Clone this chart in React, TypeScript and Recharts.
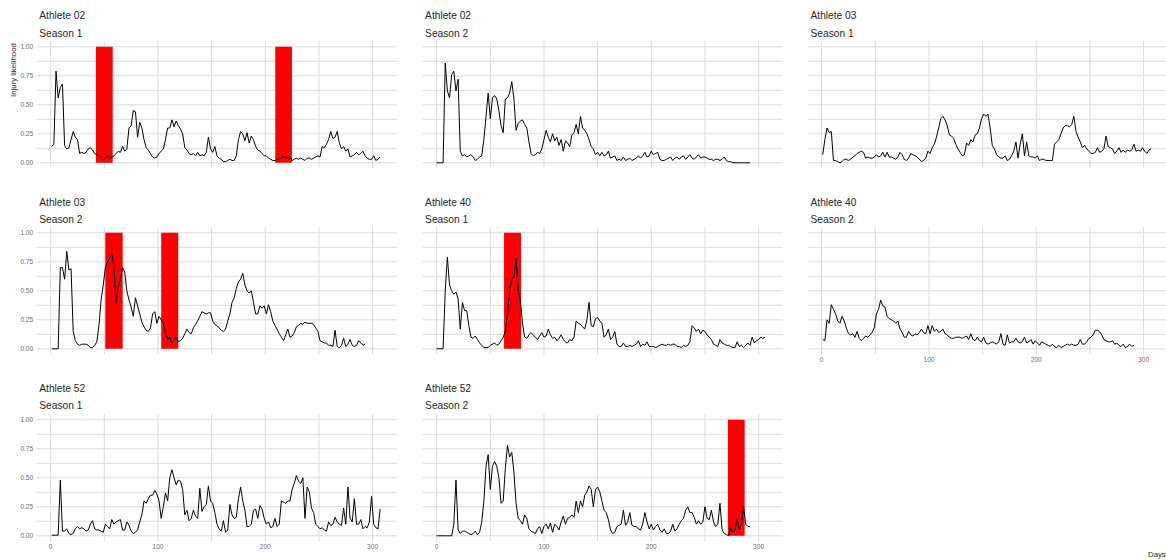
import React from 'react';
import { LineChart, Line, XAxis, YAxis, CartesianGrid, ReferenceArea } from 'recharts';

// x ticks (days) and y ticks (likelihood); minor breaks get no label
const dayTicks = [0, 50, 100, 150, 200, 250, 300];
const likelihoodTicks = [0, 0.125, 0.25, 0.375, 0.5, 0.625, 0.75, 0.875, 1];

// injury likelihood, one value every 2 days starting at the given day
const a02s1Start = 1;
const a02s1 = [
  0.14, 0.16, 0.79, 0.56, 0.65, 0.68, 0.15, 0.12, 0.13, 0.2,
  0.27, 0.22, 0.2, 0.08, 0.09, 0.08, 0.09, 0.12, 0.13, 0.11,
  0.08, 0.07, 0.06, 0.04, 0.02, 0.04, 0.06, 0.04, 0.05, 0.06,
  0.08, 0.1, 0.09, 0.14, 0.1, 0.12, 0.3, 0.32, 0.45, 0.44,
  0.22, 0.35, 0.3, 0.2, 0.13, 0.11, 0.08, 0.05, 0.04, 0.05,
  0.08, 0.1, 0.12, 0.2, 0.3, 0.3, 0.37, 0.31, 0.36, 0.32,
  0.29, 0.25, 0.13, 0.11, 0.08, 0.07, 0.08, 0.06, 0.09, 0.06,
  0.07, 0.06, 0.09, 0.22, 0.12, 0.09, 0.14, 0.06, 0.04, 0.03,
  0.01, 0.01, 0.02, 0.03, 0.02, 0.02, 0.06, 0.2, 0.27, 0.25,
  0.19, 0.26, 0.17, 0.23, 0.2, 0.14, 0.11, 0.1, 0.08, 0.06,
  0.06, 0.04, 0.03, 0.02, 0.02, 0.03, 0.03, 0.04, 0.06, 0.04,
  0.05, 0.05, 0.02, 0.03, 0.04, 0.03, 0.04, 0.03, 0.02, 0.04,
  0.04, 0.03, 0.04, 0.05, 0.06, 0.05, 0.14, 0.13, 0.16, 0.2,
  0.27, 0.21, 0.22, 0.27, 0.17, 0.12, 0.14, 0.1, 0.12, 0.05,
  0.06, 0.07, 0.09, 0.07, 0.08, 0.1, 0.06, 0.04, 0.03, 0.03,
  0.06, 0.02, 0.03, 0.05,
];
const a02s1Injuries = [[42.2, 57.8], [209.3, 224.8]];

const a02s2Start = 0;
const a02s2 = [
  0, 0, 0, 0, 0.86, 0.62, 0.56, 0.76, 0.79, 0.62,
  0.72, 0.1, 0.06, 0.07, 0.05, 0.06, 0.07, 0.05, 0.02, 0.03,
  0.05, 0.06, 0.2, 0.4, 0.6, 0.38, 0.56, 0.58, 0.55, 0.45,
  0.32, 0.26, 0.55, 0.56, 0.6, 0.7, 0.55, 0.28, 0.34, 0.36,
  0.37, 0.33, 0.3, 0.18, 0.08, 0.06, 0.07, 0.09, 0.08, 0.12,
  0.2, 0.28, 0.22, 0.18, 0.25, 0.19, 0.22, 0.15, 0.2, 0.1,
  0.19, 0.17, 0.14, 0.24, 0.26, 0.33, 0.25, 0.4, 0.3, 0.28,
  0.25, 0.2, 0.14, 0.12, 0.07, 0.09, 0.06, 0.09, 0.06, 0.07,
  0.1, 0.04, 0.05, 0.06, 0.02, 0.03, 0.02, 0.05, 0.02, 0.03,
  0.04, 0.02, 0.03, 0.04, 0.06, 0.04, 0.06, 0.09, 0.05, 0.06,
  0.1, 0.07, 0.08, 0.09, 0.03, 0.02, 0.02, 0.03, 0.04, 0.05,
  0.02, 0.04, 0.05, 0.03, 0.05, 0.06, 0.03, 0.05, 0.07, 0.04,
  0.03, 0.05, 0.07, 0.04, 0.05, 0.05, 0.04, 0.03, 0.03, 0.02,
  0.03, 0.03, 0.02, 0.03, 0.05, 0.02, 0.01, 0.01, 0, 0,
  0, 0, 0, 0, 0, 0, 0,
];
const a02s2Injuries: number[][] = [];

const a03s1Start = 1;
const a03s1 = [
  0.07, 0.2, 0.3, 0.26, 0.27, 0.02, 0.02, 0.01, 0, 0.01,
  0.03, 0.03, 0.02, 0.03, 0.05, 0.06, 0.08, 0.09, 0.1, 0.09,
  0.04, 0.05, 0.04, 0.04, 0.05, 0.07, 0.05, 0.06, 0.09, 0.05,
  0.09, 0.05, 0.05, 0.04, 0.03, 0.05, 0.09, 0.07, 0.03, 0.02,
  0.04, 0.08, 0.07, 0.06, 0.05, 0.03, 0.01, 0.02, 0.04, 0.1,
  0.08, 0.13, 0.16, 0.22, 0.3, 0.38, 0.4, 0.37, 0.32, 0.24,
  0.23, 0.21, 0.16, 0.12, 0.09, 0.06, 0.07, 0.17, 0.15, 0.2,
  0.18, 0.24, 0.25, 0.3, 0.38, 0.42, 0.4, 0.42, 0.3, 0.15,
  0.12, 0.07, 0.05, 0.04, 0.04, 0.06, 0.02, 0.03, 0.06, 0.1,
  0.18, 0.04, 0.16, 0.25, 0.06, 0.18, 0.06, 0.05, 0.05, 0.04,
  0.06, 0.02, 0.03, 0.03, 0.02, 0.02, 0.02, 0.02, 0.16, 0.18,
  0.2, 0.25, 0.3, 0.32, 0.32, 0.31, 0.33, 0.4, 0.27, 0.22,
  0.18, 0.13, 0.15, 0.12, 0.1, 0.08, 0.08, 0.09, 0.13, 0.09,
  0.1, 0.12, 0.23, 0.14, 0.13, 0.12, 0.08, 0.1, 0.13, 0.09,
  0.11, 0.09, 0.11, 0.1, 0.11, 0.16, 0.1, 0.11, 0.1, 0.13,
  0.1, 0.08, 0.11, 0.12,
];
const a03s1Injuries: number[][] = [];

const a03s2Start = 1;
const a03s2 = [
  0, 0, 0, 0, 0.7, 0.7, 0.6, 0.84, 0.68, 0.69,
  0.15, 0.07, 0.04, 0.03, 0.04, 0.04, 0.04, 0.03, 0.01, 0.01,
  0.03, 0.06, 0.2, 0.42, 0.55, 0.7, 0.75, 0.78, 0.82, 0.7,
  0.4, 0.55, 0.6, 0.7, 0.66, 0.5, 0.42, 0.36, 0.28, 0.44,
  0.37, 0.3, 0.23, 0.19, 0.16, 0.15, 0.18, 0.3, 0.32, 0.22,
  0.28, 0.25, 0.22, 0.14, 0.08, 0.1, 0.05, 0.08, 0.1, 0.06,
  0.07, 0.09, 0.13, 0.17, 0.14, 0.13, 0.18, 0.21, 0.24, 0.28,
  0.32, 0.31, 0.3, 0.31, 0.31, 0.24, 0.21, 0.2, 0.18, 0.16,
  0.15, 0.17, 0.24, 0.3, 0.4, 0.44, 0.52, 0.58, 0.6, 0.65,
  0.55, 0.5, 0.48, 0.5, 0.4, 0.3, 0.3, 0.37, 0.35, 0.37,
  0.3, 0.38, 0.32, 0.24, 0.2, 0.17, 0.13, 0.1, 0.07, 0.12,
  0.17, 0.1, 0.11, 0.14, 0.19, 0.2, 0.22, 0.21, 0.23, 0.22,
  0.22, 0.22, 0.21, 0.18, 0.15, 0.07, 0.06, 0.05, 0.05, 0.03,
  0.03, 0.02, 0.16, 0.02, 0.01, 0.03, 0.09, 0.02, 0.04, 0.08,
  0.03, 0.02, 0.03, 0.07, 0.05, 0.03, 0.04,
];
const a03s2Injuries = [[50.9, 67.1], [103, 118.9]];

const a40s1Start = 0;
const a40s1 = [
  0, 0, 0, 0, 0.5, 0.79, 0.55, 0.5, 0.47, 0.49,
  0.43, 0.17, 0.4, 0.33, 0.33, 0.2, 0.1, 0.09, 0.11, 0.08,
  0.05, 0.03, 0.01, 0.01, 0.01, 0.03, 0.04, 0.05, 0.03, 0.04,
  0.07, 0.1, 0.15, 0.3, 0.5, 0.6, 0.62, 0.78, 0.5, 0.42,
  0.22, 0.1, 0.09, 0.12, 0.14, 0.12, 0.1, 0.08, 0.11, 0.14,
  0.1, 0.11, 0.17, 0.12, 0.09, 0.1, 0.07, 0.09, 0.12, 0.08,
  0.06, 0.05, 0.08, 0.07, 0.1, 0.24, 0.22, 0.21, 0.19, 0.17,
  0.25, 0.4, 0.2, 0.19, 0.26, 0.27, 0.24, 0.22, 0.1, 0.12,
  0.17, 0.08, 0.1, 0.15, 0.04, 0.02, 0.02, 0.05, 0.02, 0.02,
  0.03, 0.02, 0.03, 0.04, 0.07, 0.02, 0.04, 0.03, 0.06, 0.02,
  0.02, 0.02, 0.01, 0.02, 0.03, 0.04, 0.03, 0.03, 0.04, 0.03,
  0.04, 0.04, 0.02, 0.02, 0.01, 0.03, 0.02, 0.03, 0.06, 0.2,
  0.18, 0.15, 0.17, 0.13, 0.16, 0.15, 0.12, 0.1, 0.08, 0.04,
  0.03, 0.02, 0.08, 0.05, 0.04, 0.03, 0.03, 0.02, 0.01, 0.01,
  0.06, 0.02, 0.03, 0.01, 0.03, 0.05, 0.03, 0.1, 0.05, 0.07,
  0.08, 0.1, 0.09, 0.1,
];
const a40s1Injuries = [[62.8, 78.6]];

const a40s2Start = 1;
const a40s2 = [
  0.08, 0.07, 0.25, 0.22, 0.38, 0.34, 0.3, 0.24, 0.22, 0.28,
  0.24, 0.18, 0.13, 0.12, 0.13, 0.1, 0.15, 0.09, 0.07, 0.09,
  0.11, 0.1, 0.12, 0.14, 0.18, 0.3, 0.34, 0.42, 0.37, 0.36,
  0.28, 0.26, 0.25, 0.24, 0.22, 0.24, 0.17, 0.14, 0.1, 0.1,
  0.15, 0.12, 0.11, 0.13, 0.12, 0.14, 0.17, 0.14, 0.13, 0.2,
  0.13, 0.2, 0.15, 0.17, 0.14, 0.15, 0.17, 0.13, 0.12, 0.1,
  0.09, 0.09, 0.1, 0.1, 0.1, 0.09, 0.1, 0.11, 0.08, 0.13,
  0.08, 0.07, 0.1, 0.07, 0.06, 0.1, 0.05, 0.04, 0.05, 0.06,
  0.05, 0.04, 0.06, 0.13, 0.04, 0.03, 0.12, 0.05, 0.06, 0.06,
  0.09, 0.06, 0.05, 0.06, 0.1, 0.05, 0.06, 0.08, 0.04, 0.07,
  0.05, 0.03, 0.06, 0.05, 0.04, 0.03, 0.02, 0.04, 0.02, 0.01,
  0.03, 0.01, 0.02, 0.03, 0.04, 0.03, 0.04, 0.03, 0.03, 0.04,
  0.08, 0.04, 0.04, 0.06, 0.09, 0.1, 0.12, 0.16, 0.16, 0.15,
  0.12, 0.08, 0.07, 0.06, 0.06, 0.07, 0.04, 0.05, 0.03, 0.02,
  0.04, 0.01, 0.02, 0.04, 0.02, 0.03,
];
const a40s2Injuries: number[][] = [];

const a52s1Start = 1;
const a52s1 = [
  0.005, 0.005, 0.005, 0.005, 0.48, 0.04, 0.04, 0.06, 0.02, 0.01,
  0.02, 0.06, 0.08, 0.06, 0.07, 0.06, 0.04, 0.05, 0.1, 0.13,
  0.06, 0.05, 0.05, 0.04, 0.03, 0.1, 0.08, 0.06, 0.14, 0.1,
  0.12, 0.13, 0.14, 0.05, 0.05, 0.12, 0.09, 0.04, 0.02, 0.03,
  0.05, 0.12, 0.18, 0.3, 0.28, 0.32, 0.35, 0.35, 0.39, 0.36,
  0.3, 0.15, 0.25, 0.37, 0.3, 0.5, 0.57, 0.5, 0.44, 0.48,
  0.47, 0.4, 0.18, 0.22, 0.13, 0.15, 0.22, 0.17, 0.15, 0.41,
  0.21, 0.25, 0.27, 0.43, 0.3, 0.28, 0.2, 0.1, 0.06, 0.04,
  0.13, 0.03, 0.05, 0.27, 0.18, 0.15, 0.16, 0.32, 0.42, 0.3,
  0.22, 0.08, 0.08, 0.1, 0.22, 0.23, 0.15, 0.26, 0.23, 0.15,
  0.1, 0.12, 0.07, 0.08, 0.15, 0.08, 0.1, 0.3, 0.29, 0.28,
  0.3, 0.3, 0.4, 0.45, 0.52, 0.47, 0.45, 0.5, 0.15, 0.42,
  0.38, 0.24, 0.2, 0.1, 0.08, 0.06, 0.07, 0.05, 0.04, 0.12,
  0.09, 0.1, 0.16, 0.12, 0.1, 0.09, 0.24, 0.1, 0.42, 0.15,
  0.12, 0.32, 0.1, 0.1, 0.14, 0.06, 0.08, 0.07, 0.12, 0.34,
  0.1, 0.07, 0.06, 0.23,
];
const a52s1Injuries: number[][] = [];

const a52s2Start = 0;
const a52s2 = [
  0, 0, 0, 0, 0, 0, 0, 0, 0.1, 0.48,
  0.05, 0.02, 0.04, 0.04, 0.03, 0.02, 0.01, 0.02, 0.04, 0.01,
  0.03, 0.12, 0.3, 0.6, 0.7, 0.4, 0.6, 0.64, 0.6, 0.5,
  0.28, 0.3, 0.58, 0.78, 0.68, 0.72, 0.55, 0.28, 0.15, 0.13,
  0.1, 0.18, 0.15, 0.06, 0.04, 0.03, 0.02, 0.06, 0.08, 0.02,
  0.08, 0.1, 0.06, 0.11, 0.03, 0.1, 0.08, 0.05, 0.12, 0.17,
  0.1, 0.15, 0.16, 0.18, 0.16, 0.3, 0.2, 0.3, 0.25, 0.35,
  0.38, 0.43, 0.4, 0.25, 0.4, 0.42, 0.38, 0.3, 0.22, 0.2,
  0.14, 0.05, 0.02, 0.03, 0.08, 0.09, 0.1, 0.22, 0.09, 0.12,
  0.2, 0.09, 0.08, 0.08, 0.06, 0.05, 0.1, 0.2, 0.12, 0.06,
  0.1, 0.05, 0.08, 0.1, 0.05, 0.03, 0.06, 0.02, 0.02, 0.04,
  0.1, 0.04, 0.06, 0.1, 0.13, 0.15, 0.22, 0.25, 0.2, 0.2,
  0.16, 0.1, 0.13, 0.1, 0.12, 0.25, 0.15, 0.14, 0.22, 0.12,
  0.08, 0.1, 0.28, 0.05, 0.02, 0.01, 0, 0.07, 0.03, 0.05,
  0.14, 0.05, 0.1, 0.25, 0.1, 0.08, 0.08,
];
const a52s2Injuries = [[271.4, 287]];

// facet layout
const COL_LEFT = [36.7, 422.5, 807.9];
const ROW_TOP = [40.9, 227.4, 413.6];
const PLOT_W = 360.6;
const PLOT_H = 127.6;
const Y_W = 36.7;
const X_H = 14;
const FONT = '"Liberation Sans", Arial, Helvetica, sans-serif';

const panels = [
  { athlete: 'Athlete 02', season: 'Season 1', values: a02s1, start: a02s1Start, injuries: a02s1Injuries, row: 0, col: 0 },
  { athlete: 'Athlete 02', season: 'Season 2', values: a02s2, start: a02s2Start, injuries: a02s2Injuries, row: 0, col: 1 },
  { athlete: 'Athlete 03', season: 'Season 1', values: a03s1, start: a03s1Start, injuries: a03s1Injuries, row: 0, col: 2 },
  { athlete: 'Athlete 03', season: 'Season 2', values: a03s2, start: a03s2Start, injuries: a03s2Injuries, row: 1, col: 0 },
  { athlete: 'Athlete 40', season: 'Season 1', values: a40s1, start: a40s1Start, injuries: a40s1Injuries, row: 1, col: 1 },
  { athlete: 'Athlete 40', season: 'Season 2', values: a40s2, start: a40s2Start, injuries: a40s2Injuries, row: 1, col: 2 },
  { athlete: 'Athlete 52', season: 'Season 1', values: a52s1, start: a52s1Start, injuries: a52s1Injuries, row: 2, col: 0 },
  { athlete: 'Athlete 52', season: 'Season 2', values: a52s2, start: a52s2Start, injuries: a52s2Injuries, row: 2, col: 1 },
];

type PanelDef = (typeof panels)[number];

const Panel = ({ p }: { p: PanelDef }) => {
  const data = p.values.map((v, i) => ({ day: p.start + i * 2, v }));
  const showY = p.col === 0;
  const showX = p.row === 2 || (p.row === 1 && p.col === 2);
  const tickStyle = { fontSize: 6.6, fill: '#6b6b6b', fontFamily: FONT };

  return (
    <div style={{ position: 'absolute', left: COL_LEFT[p.col] - Y_W, top: ROW_TOP[p.row] }}>
      <LineChart
        width={Y_W + PLOT_W}
        height={PLOT_H + X_H}
        data={data}
        margin={{ top: 0, right: 0, bottom: 0, left: 0 }}
      >
        {/* syncWithTicks keeps the grid off the panel edges */}
        <CartesianGrid stroke="#d9d9d9" strokeWidth={1} syncWithTicks />
        <XAxis
          dataKey="day"
          type="number"
          domain={[-13, 323]}
          allowDataOverflow
          ticks={dayTicks}
          interval={0}
          height={X_H}
          axisLine={false}
          tickLine={false}
          tickSize={0}
          tickMargin={3}
          tick={tickStyle}
          tickFormatter={(d: number) => (showX && d % 100 === 0 ? String(d) : '')}
        />
        <YAxis
          type="number"
          domain={[-0.05, 1.05]}
          allowDataOverflow
          ticks={likelihoodTicks}
          interval={0}
          width={Y_W}
          axisLine={false}
          tickLine={false}
          tickSize={0}
          tickMargin={3.5}
          tick={tickStyle}
          tickFormatter={(v: number) => (showY && Number.isInteger(v * 4) ? v.toFixed(2) : '')}
        />
        {p.injuries.map(([from, to]) => (
          <ReferenceArea
            key={from}
            x1={from}
            x2={to}
            y1={0}
            y2={1}
            fill="#ff0000"
            fillOpacity={1}
            stroke="none"
            ifOverflow="visible"
          />
        ))}
        <Line
          dataKey="v"
          type="linear"
          stroke="#000000"
          strokeWidth={1}
          dot={false}
          isAnimationActive={false}
        />
      </LineChart>
    </div>
  );
};

export default function App() {
  return (
    <div style={{ position: 'absolute', left: 0, top: 0, width: 1166, height: 560, background: '#ffffff', overflow: 'hidden' }}>
      {panels.map((p) => (
        <Panel key={p.athlete + p.season} p={p} />
      ))}
      <svg
        width={1166}
        height={560}
        style={{ position: 'absolute', left: 0, top: 0, pointerEvents: 'none' }}
        fontFamily={FONT}
      >
        {panels.map((p) => (
          <g key={p.athlete + p.season} fill="#262626" fontSize={10.2}>
            <text x={COL_LEFT[p.col] + 2.6} y={ROW_TOP[p.row] - 21.6}>{p.athlete}</text>
            <text x={COL_LEFT[p.col] + 2.6} y={ROW_TOP[p.row] - 4.2}>{p.season}</text>
          </g>
        ))}
        <text transform="translate(15.6,70) rotate(-90)" textAnchor="middle" fontSize={7.8} fill="#262626">
          Injury likelihood
        </text>
        <text x={1148} y={557.3} fontSize={7.8} fill="#262626">Days</text>
      </svg>
    </div>
  );
}
